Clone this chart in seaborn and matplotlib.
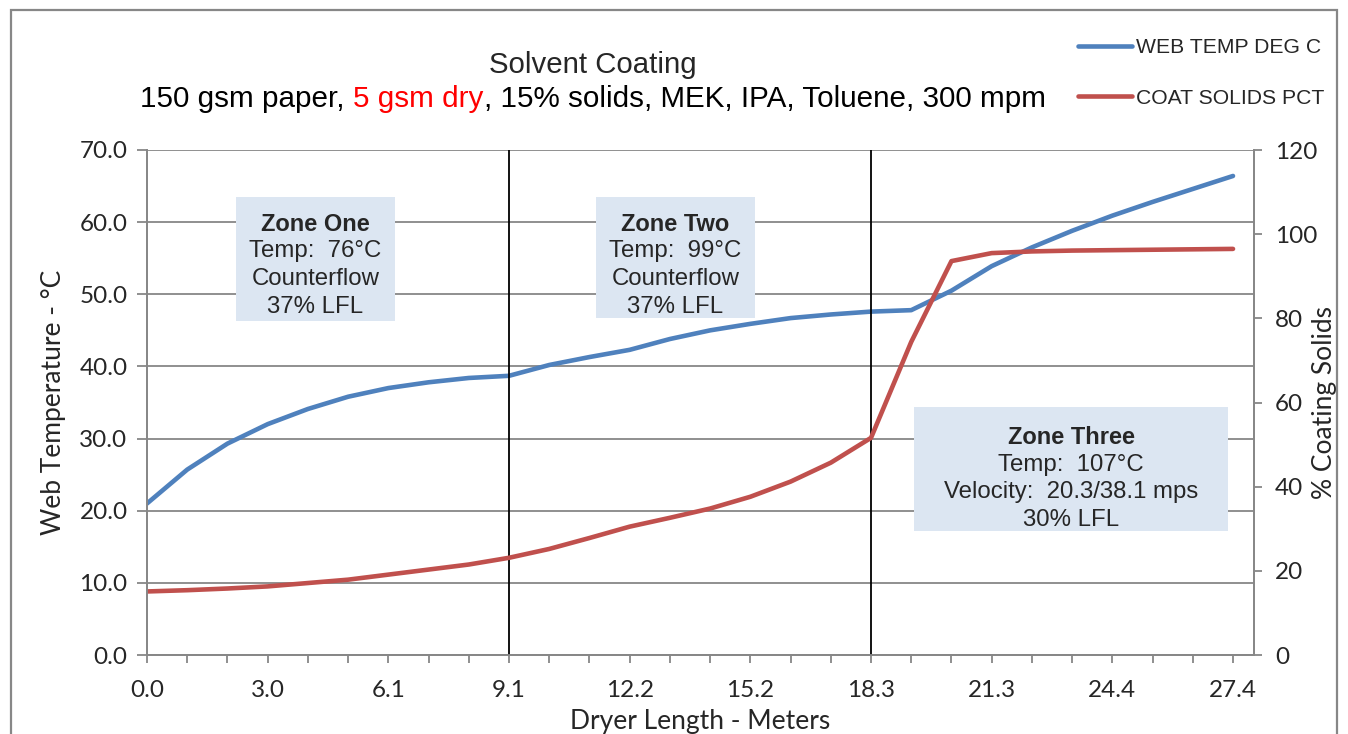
import pandas as pd
import matplotlib
matplotlib.use("Agg")
import matplotlib.pyplot as plt
from matplotlib.patches import Rectangle
from matplotlib.ticker import FixedLocator
import seaborn as sns

# dryer position (m), one reading every 40 in
dryer_m = [0.000, 1.016, 2.032, 3.048, 4.064, 5.080, 6.096, 7.112, 8.128, 9.144,
           10.160, 11.176, 12.192, 13.208, 14.224, 15.240, 16.256, 17.272, 18.288,
           19.304, 20.320, 21.336, 22.352, 23.368, 24.384, 25.400, 26.416, 27.432]
web_temp = [21.0, 25.7, 29.3, 32.0, 34.1, 35.8, 37.0, 37.8, 38.4, 38.7,
            40.2, 41.3, 42.3, 43.8, 45.0, 45.9, 46.7, 47.2, 47.6,
            47.8, 50.5, 53.9, 56.5, 58.8, 60.9, 62.8, 64.6, 66.4]
coat_solids = [15.1, 15.4, 15.8, 16.3, 17.1, 17.9, 19.1, 20.3, 21.5, 23.1,
               25.2, 27.8, 30.5, 32.6, 34.8, 37.6, 41.2, 45.7, 51.6,
               74.4, 93.6, 95.5, 95.9, 96.1, 96.2, 96.3, 96.4, 96.5]
x_labels = ["0.0", "3.0", "6.1", "9.1", "12.2", "15.2", "18.3", "21.3", "24.4", "27.4"]
zone_ends = [9.144, 18.288]
zones = [
    ("Zone One", ["Temp:  76°C", "Counterflow", "37% LFL"]),
    ("Zone Two", ["Temp:  99°C", "Counterflow", "37% LFL"]),
    ("Zone Three", ["Temp:  107°C", "Velocity:  20.3/38.1 mps", "30% LFL"]),
]

df = pd.DataFrame({"dist": dryer_m, "temp": web_temp, "solids": coat_solids})

sns.set_theme(style="white")
plt.rcParams["font.family"] = ["Liberation Sans", "DejaVu Sans"]
tick_font = ["Lato", "DejaVu Sans"]

W, H = 1348, 734
fig = plt.figure(figsize=(W / 100, H / 100), dpi=100)
fig.patch.set_facecolor("white")


def fx(px):
    return px / W


def fy(py):
    return 1 - py / H


gray = "#878787"
blue = "#4F81BD"
red = "#C0504D"

ax = fig.add_axes([fx(147), fy(655), fx(1254 - 147), (655 - 150) / H])
ax2 = ax.twinx()

sns.lineplot(data=df, x="dist", y="temp", ax=ax, color=blue, linewidth=3.3,
             label="WEB TEMP DEG C", solid_capstyle="round")
sns.lineplot(data=df, x="dist", y="solids", ax=ax2, color=red, linewidth=3.3,
             label="COAT SOLIDS PCT", solid_capstyle="round")

for xe in zone_ends:
    ax.axvline(xe, color="black", linewidth=1.3, zorder=3)

ax.set_xlim(0, dryer_m[-1] + 0.53)
ax.set_ylim(0, 70)
ax2.set_ylim(0, 120)
ax.set_yticks(range(0, 71, 10))
ax.set_yticklabels([f"{v:.1f}" for v in range(0, 71, 10)])
ax2.set_yticks(range(0, 121, 20))
ax.set_xticks(dryer_m[::3])
ax.set_xticklabels(x_labels)
ax.xaxis.set_minor_locator(FixedLocator(dryer_m))

ax.grid(axis="y", color=gray, linewidth=1.3)
ax.grid(axis="x", visible=False)
ax2.grid(False)
ax2.patch.set_visible(False)

for a in (ax, ax2):
    for s in a.spines.values():
        s.set_color(gray)
        s.set_linewidth(1.3)
    a.spines["top"].set_visible(False)

ax.tick_params(axis="y", which="major", direction="out", length=7, width=1.3,
               color=gray, pad=7, labelsize=17.5, left=True)
ax.tick_params(axis="x", which="both", direction="out", length=5.5, width=1.3,
               color=gray, pad=12.5, labelsize=17.5, bottom=True)
ax2.tick_params(axis="y", direction="out", length=6, width=1.3, color=gray,
                pad=9, labelsize=17.5, right=True)
for lab in ax.get_xticklabels() + ax.get_yticklabels() + ax2.get_yticklabels():
    lab.set_family(tick_font)

ax.set_xlabel("Dryer Length - Meters", fontsize=19, family=tick_font, labelpad=6)
ax.set_ylabel("Web Temperature - °C", fontsize=19, family=tick_font, labelpad=10)
ax2.set_ylabel("% Coating Solids", fontsize=19, family=tick_font, labelpad=-4)

# legend outside the plot, top right
h1, l1 = ax.get_legend_handles_labels()
h2, l2 = ax2.get_legend_handles_labels()
ax.get_legend().remove()
ax2.get_legend().remove()
fig.legend(h1 + h2, l1 + l2, loc="upper left", bbox_to_anchor=(fx(1078), fy(38)),
           frameon=False, fontsize=15.2, handlelength=2.55, handletextpad=0.2,
           labelspacing=1.5, borderpad=0, borderaxespad=0)

# title, second line has a red piece
fig.text(fx(593), fy(65), "Solvent Coating", fontsize=21.2, ha="center", va="center")
fig.canvas.draw()
r = fig.canvas.get_renderer()
pieces = [("150 gsm paper,", "black", True), ("5 gsm dry", "red", False),
          (", 15% solids, MEK, IPA, Toluene, 300 mpm", "black", False)]
t_objs = []
for txt, col, _ in pieces:
    t_objs.append(fig.text(0, fy(99), txt, fontsize=21.3, color=col, ha="left", va="center"))
probe1 = fig.text(0, 0, "x x", fontsize=21.3)
probe2 = fig.text(0, 0, "xx", fontsize=21.3)
space_w = probe1.get_window_extent(r).width - probe2.get_window_extent(r).width
probe1.remove()
probe2.remove()
widths = [t.get_window_extent(r).width for t in t_objs]
total = sum(widths) + space_w
x0 = 593 - total / 2
for t, w, (_, _, gap) in zip(t_objs, widths, pieces):
    t.set_x(fx(x0))
    x0 += w + (space_w if gap else 0)

# zone annotation boxes
boxes = [(236, 197, 395, 321), (596, 197, 755, 318), (914, 407, 1228, 531)]
line_y = [[224, 251, 279, 307], [224, 251, 279, 307], [437, 465, 492, 520]]
for (x1, y1, x2, y2), (head, rows), ys in zip(boxes, zones, line_y):
    fig.add_artist(Rectangle((fx(x1), fy(y2)), fx(x2 - x1), (y2 - y1) / H,
                             transform=fig.transFigure, facecolor="#DCE6F2",
                             edgecolor="none", zorder=5))
    cx = fx((x1 + x2) / 2)
    fig.text(cx, fy(ys[0]), head, fontsize=17, fontweight="bold", ha="center",
             va="center", zorder=6)
    for row, yy in zip(rows, ys[1:]):
        fig.text(cx, fy(yy), row, fontsize=17.3, ha="center", va="center", zorder=6)

# chart frame
fig.add_artist(Rectangle((fx(11), -0.1), fx(1337 - 11), fy(10) + 0.1,
                         transform=fig.transFigure, fill=False, edgecolor=gray,
                         linewidth=1.6))

fig.savefig("out.png", dpi=100, facecolor="white")
